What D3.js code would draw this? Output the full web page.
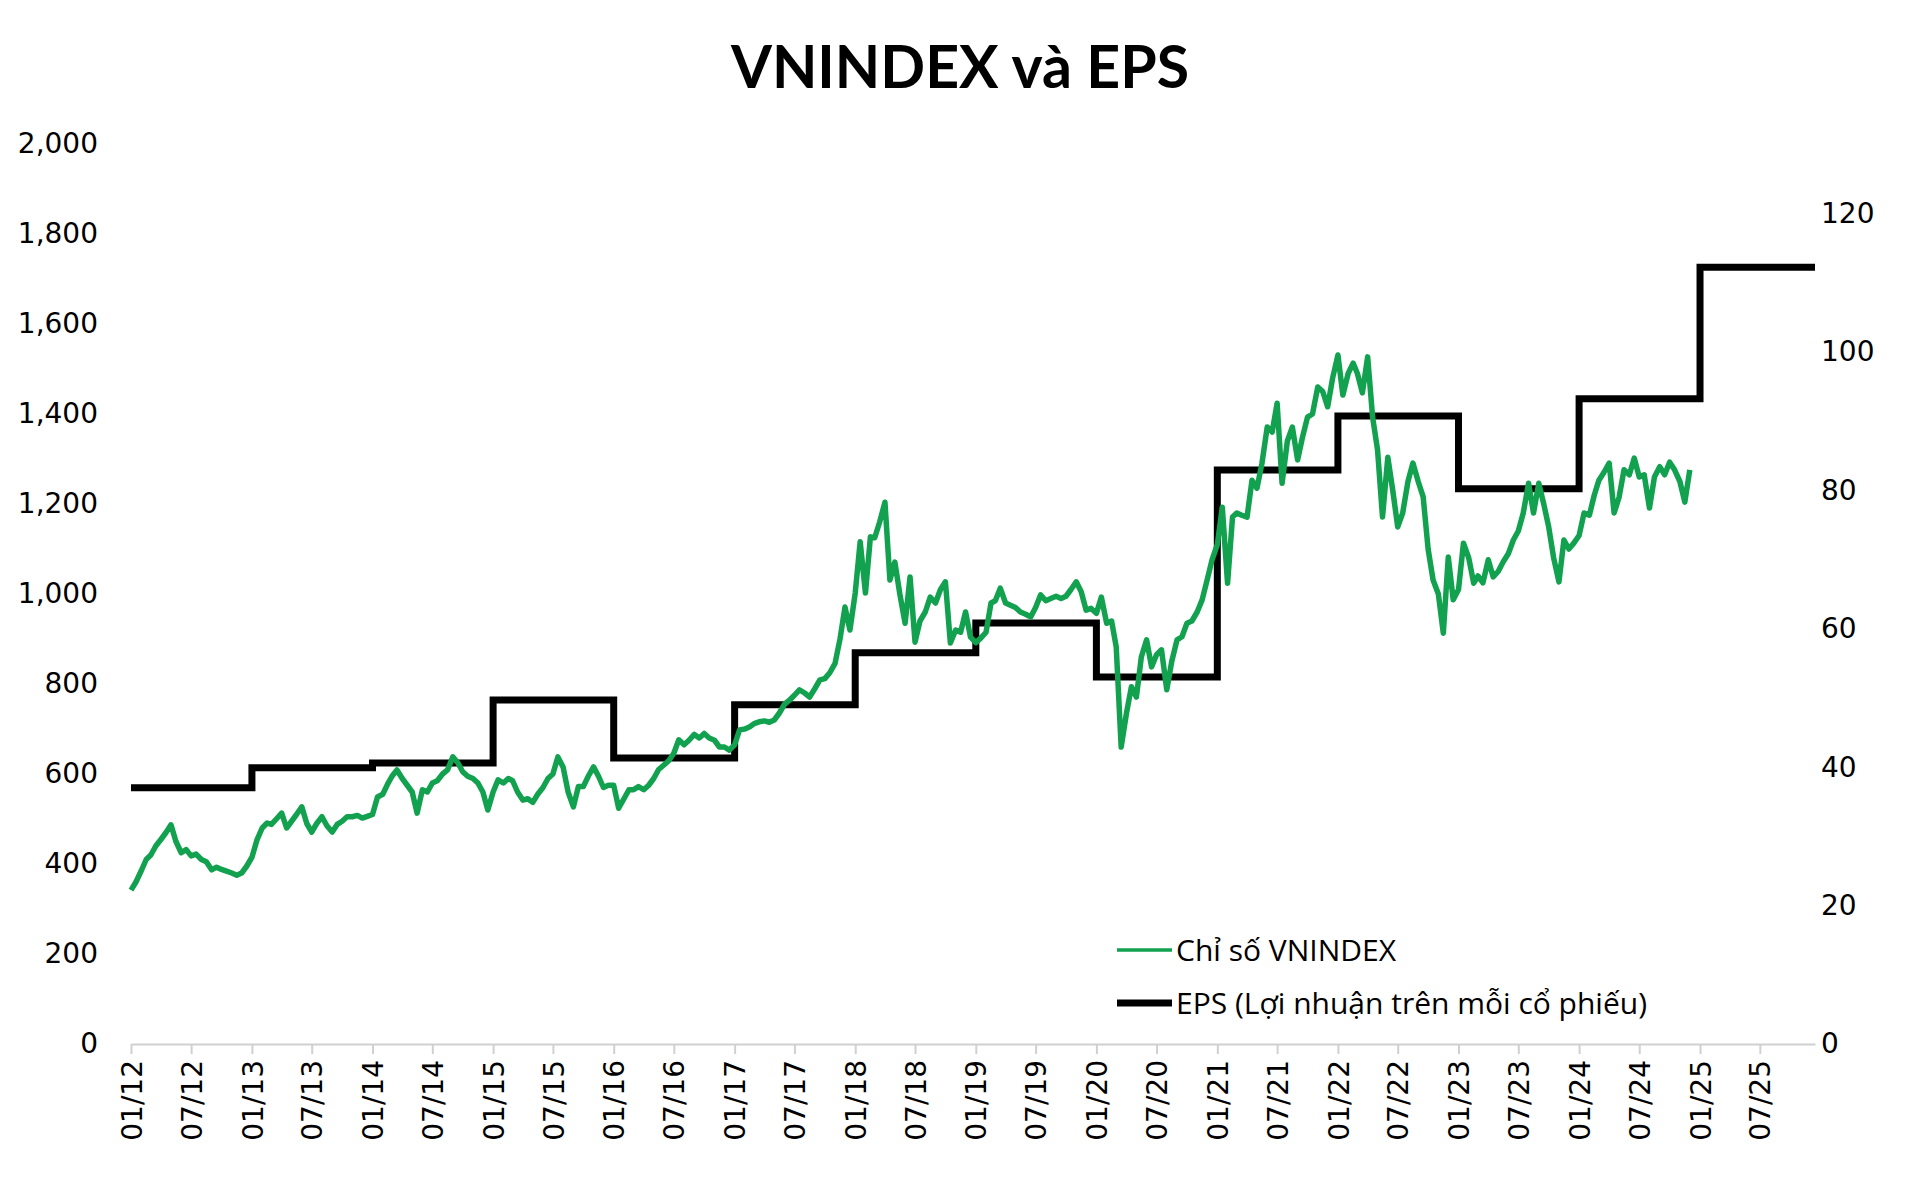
<!DOCTYPE html>
<html>
<head>
<meta charset="utf-8">
<script src="https://cdn.jsdelivr.net/npm/d3@7"></script>
<style>
  body { margin: 0; background: #fff; }
  svg { display: block; }
</style>
</head>
<body>
<div id="chart"></div>
<script>
// VNINDEX, 2 readings a month (1st and 16th)
const vn2012 = [342, 360, 385, 410, 420, 440, 455, 470, 487, 450, 425, 432, 418, 422, 410, 405, 387, 393, 388, 384, 380, 375, 380, 395];
const vn2013 = [415, 453, 480, 491, 488, 500, 513, 480, 495, 510, 527, 490, 471, 490, 505, 485, 471, 488, 495, 505, 505, 508, 502, 506];
const vn2014 = [510, 549, 555, 578, 595, 609, 590, 575, 560, 513, 565, 560, 580, 585, 600, 609, 638, 625, 605, 595, 590, 580, 560, 520];
const vn2015 = [560, 587, 580, 590, 585, 560, 542, 545, 537, 555, 570, 590, 600, 638, 615, 560, 527, 572, 572, 595, 616, 595, 570, 575];
const vn2016 = [575, 524, 545, 565, 565, 572, 565, 575, 590, 610, 620, 630, 646, 676, 665, 675, 688, 680, 690, 680, 675, 660, 660, 653];
const vn2017 = [665, 698, 700, 705, 712, 716, 718, 715, 720, 735, 755, 764, 775, 787, 780, 771, 790, 809, 812, 825, 846, 900, 971, 920];
const vn2018 = [1002, 1116, 1002, 1127, 1125, 1160, 1204, 1031, 1071, 1000, 935, 1038, 893, 940, 960, 993, 980, 1010, 1027, 891, 920, 915, 960, 904];
const vn2019 = [892, 902, 915, 980, 985, 1013, 980, 975, 970, 960, 955, 949, 970, 998, 985, 990, 995, 990, 995, 1010, 1027, 1005, 964, 968];
const vn2020 = [957, 993, 935, 940, 882, 660, 735, 794, 771, 860, 898, 838, 865, 876, 787, 850, 898, 905, 935, 940, 960, 987, 1031, 1076];
const vn2021 = [1110, 1193, 1024, 1171, 1180, 1175, 1171, 1253, 1235, 1290, 1371, 1360, 1424, 1246, 1340, 1371, 1298, 1349, 1393, 1400, 1460, 1450, 1416, 1480];
const vn2022 = [1531, 1442, 1490, 1513, 1490, 1447, 1527, 1393, 1320, 1171, 1304, 1230, 1149, 1180, 1250, 1291, 1250, 1216, 1100, 1031, 1000, 913, 1082, 987];
const vn2023 = [1010, 1113, 1080, 1024, 1040, 1025, 1076, 1038, 1050, 1071, 1090, 1120, 1140, 1180, 1246, 1180, 1246, 1200, 1149, 1080, 1027, 1120, 1100, 1113];
const vn2024 = [1130, 1180, 1175, 1220, 1253, 1270, 1291, 1180, 1215, 1276, 1265, 1302, 1260, 1265, 1191, 1260, 1283, 1265, 1293, 1276, 1250, 1204, 1276];
const vnYears = [2012, 2013, 2014, 2015, 2016, 2017, 2018, 2019, 2020, 2021, 2022, 2023, 2024];
const vnByYear = [vn2012, vn2013, vn2014, vn2015, vn2016, vn2017, vn2018, vn2019, vn2020, vn2021, vn2022, vn2023, vn2024];

// EPS, yearly steps (right axis)
const epsDates = ['2012-01-01', '2013-01-01', '2014-01-01', '2015-01-01', '2016-01-01', '2017-01-01', '2018-01-01',
  '2019-01-01', '2020-01-01', '2021-01-01', '2022-01-01', '2023-01-01', '2024-01-01', '2025-01-01', '2025-12-15'];
const epsValues = [37.0, 39.9, 40.6, 49.7, 41.3, 49.0, 56.5, 60.8, 53.0, 82.9, 90.7, 80.2, 93.2, 112.2, 112.2];

const leftTicks = [0, 200, 400, 600, 800, 1000, 1200, 1400, 1600, 1800, 2000];
const rightTicks = [0, 20, 40, 60, 80, 100, 120];
const title = 'VNINDEX và EPS';
const legendLabels = ['Chỉ số VNINDEX', 'EPS (Lợi nhuận trên mỗi cổ phiếu)'];

const W = 1920, H = 1178;
const green = '#12a14f';
const axisFont = '"DejaVu Sans", Verdana, sans-serif';

const parse = d3.timeParse('%Y-%m-%d');

let vn = [];
vnYears.forEach((y, k) => {
  vnByYear[k].forEach((v, i) => {
    vn.push([new Date(y, Math.floor(i / 2), i % 2 ? 16 : 1), v]);
  });
});
let eps = epsDates.map((d, i) => [parse(d), epsValues[i]]);

let svg = d3.select('#chart').append('svg').attr('width', W).attr('height', H);
svg.append('rect').attr('width', W).attr('height', H).attr('fill', '#fff');

let x = d3.scaleTime().domain([parse('2012-01-01'), parse('2025-12-15')]).range([131, 1815]);
let yL = d3.scaleLinear().domain([0, 2000]).range([1044, 144]);
let yR = d3.scaleLinear().domain([0, 130]).range([1044, 144]);

svg.append('text')
  .attr('x', W / 2).attr('y', 88)
  .attr('text-anchor', 'middle')
  .style('font-family', 'Lato, "Open Sans", sans-serif')
  .style('font-weight', 'bold')
  .style('font-size', '59px')
  .attr('fill', '#000')
  .text(title);

// x axis
let xTicks = d3.timeMonth.every(6).range(parse('2012-01-01'), parse('2025-08-01'));
let gx = svg.append('g')
  .attr('transform', 'translate(0,1044)')
  .call(d3.axisBottom(x).tickValues(xTicks).tickFormat(d3.timeFormat('%m/%y')).tickSize(10).tickSizeOuter(0));
gx.select('.domain').attr('stroke', '#d0d0d0').attr('stroke-width', 2);
gx.selectAll('.tick line').attr('stroke', '#d0d0d0').attr('stroke-width', 2);
gx.selectAll('.tick text')
  .attr('transform', 'rotate(-90)')
  .attr('x', -16).attr('y', 0).attr('dy', '0.36em')
  .style('text-anchor', 'end')
  .style('font-family', axisFont)
  .style('font-size', '28px')
  .attr('fill', '#000');

// left axis
let gl = svg.append('g')
  .attr('transform', 'translate(98,0)')
  .call(d3.axisLeft(yL).tickValues(leftTicks).tickFormat(d3.format(',')).tickSize(0).tickPadding(0));
gl.select('.domain').remove();
gl.selectAll('text').style('font-family', axisFont).style('font-size', '28px').attr('fill', '#000');

// right axis
let gr = svg.append('g')
  .attr('transform', 'translate(1821,0)')
  .call(d3.axisRight(yR).tickValues(rightTicks).tickSize(0).tickPadding(0));
gr.select('.domain').remove();
gr.selectAll('text').style('font-family', axisFont).style('font-size', '28px').attr('fill', '#000');

// EPS steps
svg.append('path')
  .datum(eps)
  .attr('d', d3.line().curve(d3.curveStepAfter).x(d => x(d[0])).y(d => yR(d[1])))
  .attr('fill', 'none')
  .attr('stroke', '#000')
  .attr('stroke-width', 7);

// VNINDEX line
svg.append('path')
  .datum(vn)
  .attr('d', d3.line().x(d => x(d[0])).y(d => yL(d[1])))
  .attr('fill', 'none')
  .attr('stroke', green)
  .attr('stroke-width', 5.5)
  .attr('stroke-linejoin', 'round');

// legend
let lg = svg.append('g').attr('transform', 'translate(1117,950)');
[[green, 3.5], ['#000', 7]].forEach((s, i) => {
  lg.append('line')
    .attr('x1', 0).attr('x2', 55)
    .attr('y1', i * 53).attr('y2', i * 53)
    .attr('stroke', s[0]).attr('stroke-width', s[1]);
  lg.append('text')
    .attr('x', 59).attr('y', i * 53).attr('dy', '0.36em')
    .style('font-family', '"Open Sans", "Noto Sans", sans-serif')
    .style('font-size', '30px')
    .attr('fill', '#000')
    .text(legendLabels[i]);
});
</script>
</body>
</html>
